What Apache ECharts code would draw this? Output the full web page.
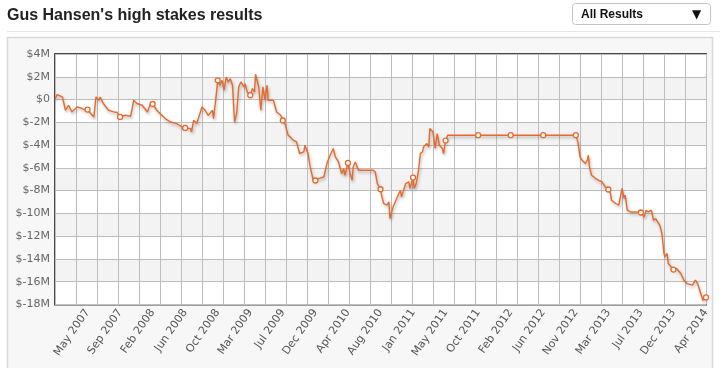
<!DOCTYPE html>
<html>
<head>
<meta charset="utf-8">
<script src="https://cdn.jsdelivr.net/npm/echarts/dist/echarts.min.js"></script>
<style>
html,body{margin:0;padding:0;background:#fff;}
#c{width:720px;height:368px;}
</style>
</head>
<body>
<div id="c"></div>
<script>
// Tick labels
const xLabels = ['May 2007','Sep 2007','Feb 2008','Jun 2008','Oct 2008','Mar 2009','Jul 2009','Dec 2009','Apr 2010','Aug 2010','Jan 2011','May 2011','Oct 2011','Feb 2012','Jun 2012','Nov 2012','Mar 2013','Jul 2013','Dec 2013','Apr 2014'];
const yTicks = [-18,-16,-14,-12,-10,-8,-6,-4,-2,0,2,4];
const yLabels = ['$-18M','$-16M','$-14M','$-12M','$-10M','$-8M','$-6M','$-4M','$-2M','$0','$2M','$4M'];
// Session index (label every 31, gridline every 20)
const sessionIdx = [0,2,7,10,13,16,21,26,29,31,34,37,39,42,43,46,51,56,59,62,67,72,75,78,83,88,91,93,97,100,105,110,116,121,124,129,130,132,135,137,140,143,146,150,151,153,155,157,159,161,163,165,167,169,171,173,175,177,180,181,183,186,188,190,191,194,196,198,200,202,203,208,211,215,217,219,222,224,227,230,233,237,238,241,243,246,248,251,256,259,262,265,267,270,273,275,276,279,281,283,284,286,289,300,303,305,307,310,311,313,316,318,319,322,326,329,330,334,337,338,341,342,344,346,348,350,351,354,356,357,360,362,364,366,369,370,372,374,403,434,465,496,498,500,502,503,505,507,508,509,511,515,518,521,524,527,529,530,534,537,538,540,542,543,545,548,553,558,561,563,565,568,570,572,574,576,578,580,581,583,584,587,589,592,596,599,602,607,610,612,615,617,620];
// Cumulative results in $M
const resultsM = [0.0,0.44,0.23,-0.94,-0.50,-1.09,-0.65,-0.79,-0.94,-0.88,-1.23,-1.53,0.23,-0.06,0.23,-0.35,-0.94,-1.09,-1.12,-1.53,-1.38,-1.47,-0.06,-0.35,-0.50,-1.09,-0.35,-0.39,-0.94,-1.23,-1.67,-1.97,-2.11,-2.41,-2.49,-2.55,-2.84,-1.82,-2.11,-1.53,-0.65,-0.94,-1.38,-0.94,-1.67,-0.06,1.69,1.26,1.69,0.82,1.98,1.55,1.84,1.26,-1.97,-1.23,1.11,1.55,1.11,1.40,0.67,0.38,0.97,0.67,2.22,1.11,-0.94,1.11,-0.06,1.26,-0.06,-0.06,-1.09,-1.38,-1.84,-2.11,-3.13,-3.28,-3.57,-3.72,-4.74,-4.60,-4.01,-4.74,-5.92,-7.09,-7.11,-6.94,-6.80,-5.62,-4.89,-4.30,-5.04,-5.48,-6.50,-6.06,-6.65,-5.57,-6.50,-7.09,-5.92,-5.48,-6.21,-6.21,-6.21,-6.36,-7.38,-7.88,-8.40,-9.13,-9.28,-8.99,-10.45,-9.43,-8.55,-7.96,-8.55,-7.38,-7.23,-7.81,-6.85,-7.81,-7.38,-6.36,-4.74,-4.60,-4.16,-3.86,-4.16,-2.55,-2.84,-4.30,-2.99,-4.01,-4.30,-4.74,-3.60,-3.13,-3.13,-3.13,-3.13,-3.13,-3.72,-5.04,-5.33,-5.18,-5.62,-5.33,-4.89,-5.92,-6.65,-6.94,-7.09,-7.23,-7.67,-7.90,-8.25,-8.84,-9.13,-9.28,-9.43,-7.81,-8.69,-8.40,-9.72,-9.87,-9.87,-9.92,-10.31,-9.72,-9.87,-9.72,-10.60,-10.45,-10.75,-11.04,-11.77,-13.52,-13.82,-13.52,-14.40,-14.70,-14.93,-14.84,-15.28,-15.87,-16.16,-16.30,-15.87,-16.16,-17.03,-17.62,-17.38];

const LABEL_EVERY = 31, GRID_EVERY = 20, X_MAX = 620;
const data = sessionIdx.map((x, i) => [x, resultsM[i]]);
const orange = '#e8692a';

const chart = echarts.init(document.getElementById('c'), null, {renderer: 'canvas'});
chart.setOption({
  animation: false,
  backgroundColor: '#ffffff',
  graphic: [
    {type: 'line', z: -10, shape: {x1: 7, y1: 31.5, x2: 720, y2: 31.5}, style: {stroke: '#e6e6e6', lineWidth: 1}},
    {type: 'rect', z: -10, shape: {x: 7.5, y: 37.5, width: 705, height: 340}, style: {fill: '#f7f7f7', stroke: '#d9d9d9', lineWidth: 1.5}},
    {type: 'text', z: 10, x: 7, y: 15.5, style: {text: "Gus Hansen's high stakes results", fill: '#222', verticalAlign: 'middle', font: 'bold 16px "Liberation Sans", Arial, sans-serif'}},
    {type: 'rect', z: 10, shape: {x: 572.5, y: 3.5, width: 138, height: 21, r: 3}, style: {fill: '#fff', stroke: '#c4c4c4', lineWidth: 1}},
    {type: 'text', z: 11, x: 581, y: 14.5, style: {text: 'All Results', fill: '#111', verticalAlign: 'middle', font: 'bold 12px "Liberation Sans", Arial, sans-serif'}},
    {type: 'text', z: 11, x: 692, y: 14.5, style: {text: '▼', fill: '#111', verticalAlign: 'middle', font: '12px "DejaVu Sans", sans-serif'}}
  ],
  grid: {
    left: 55, top: 54, width: 651, height: 250.5,
    show: true, backgroundColor: '#ffffff', borderColor: '#4a4a4a', borderWidth: 2,
    containLabel: false
  },
  xAxis: [
    {
      type: 'value', min: 0, max: X_MAX, interval: LABEL_EVERY,
      axisLine: {show: false}, axisTick: {show: false}, splitLine: {show: false},
      axisLabel: {
        rotate: 55, margin: 6, color: '#555', fontSize: 11, fontFamily: '"DejaVu Sans", Verdana, sans-serif',
        showMinLabel: true, showMaxLabel: true,
        formatter: v => { const k = Math.round(v / LABEL_EVERY); return k >= 1 ? (xLabels[k - 1] || '') : ''; }
      }
    },
    {
      type: 'value', min: 0, max: X_MAX, interval: GRID_EVERY, position: 'bottom',
      axisLine: {show: false}, axisTick: {show: false}, axisLabel: {show: false},
      splitLine: {show: true, lineStyle: {color: '#bdbdbd', width: 1}}
    }
  ],
  yAxis: {
    type: 'value', min: -18, max: 4, interval: 2,
    axisLine: {show: false}, axisTick: {show: false},
    splitLine: {show: true, lineStyle: {color: '#bdbdbd', width: 1}},
    splitArea: {show: true, areaStyle: {color: ['#ffffff', '#f3f3f3']}},
    axisLabel: {
      margin: 5, color: '#666', fontSize: 11, fontFamily: '"DejaVu Sans", Verdana, sans-serif',
      formatter: v => { const i = yTicks.findIndex(t => Math.abs(t - v) < 1e-6); return i >= 0 ? yLabels[i] : ''; }
    }
  },
  series: [{
    type: 'line', xAxisIndex: 0, data: data,
    showSymbol: true, showAllSymbol: true, symbol: 'circle',
    symbolSize: v => (v[0] > 0 && v[0] % LABEL_EVERY === 0) ? 5 : 0,
    itemStyle: {color: '#ffffff', borderColor: orange, borderWidth: 1.3},
    lineStyle: {color: orange, width: 1.4, shadowColor: 'rgba(0,0,0,0.3)', shadowBlur: 3, shadowOffsetX: 1, shadowOffsetY: 2},
    emphasis: {disabled: true}
  }]
});
</script>
</body>
</html>
